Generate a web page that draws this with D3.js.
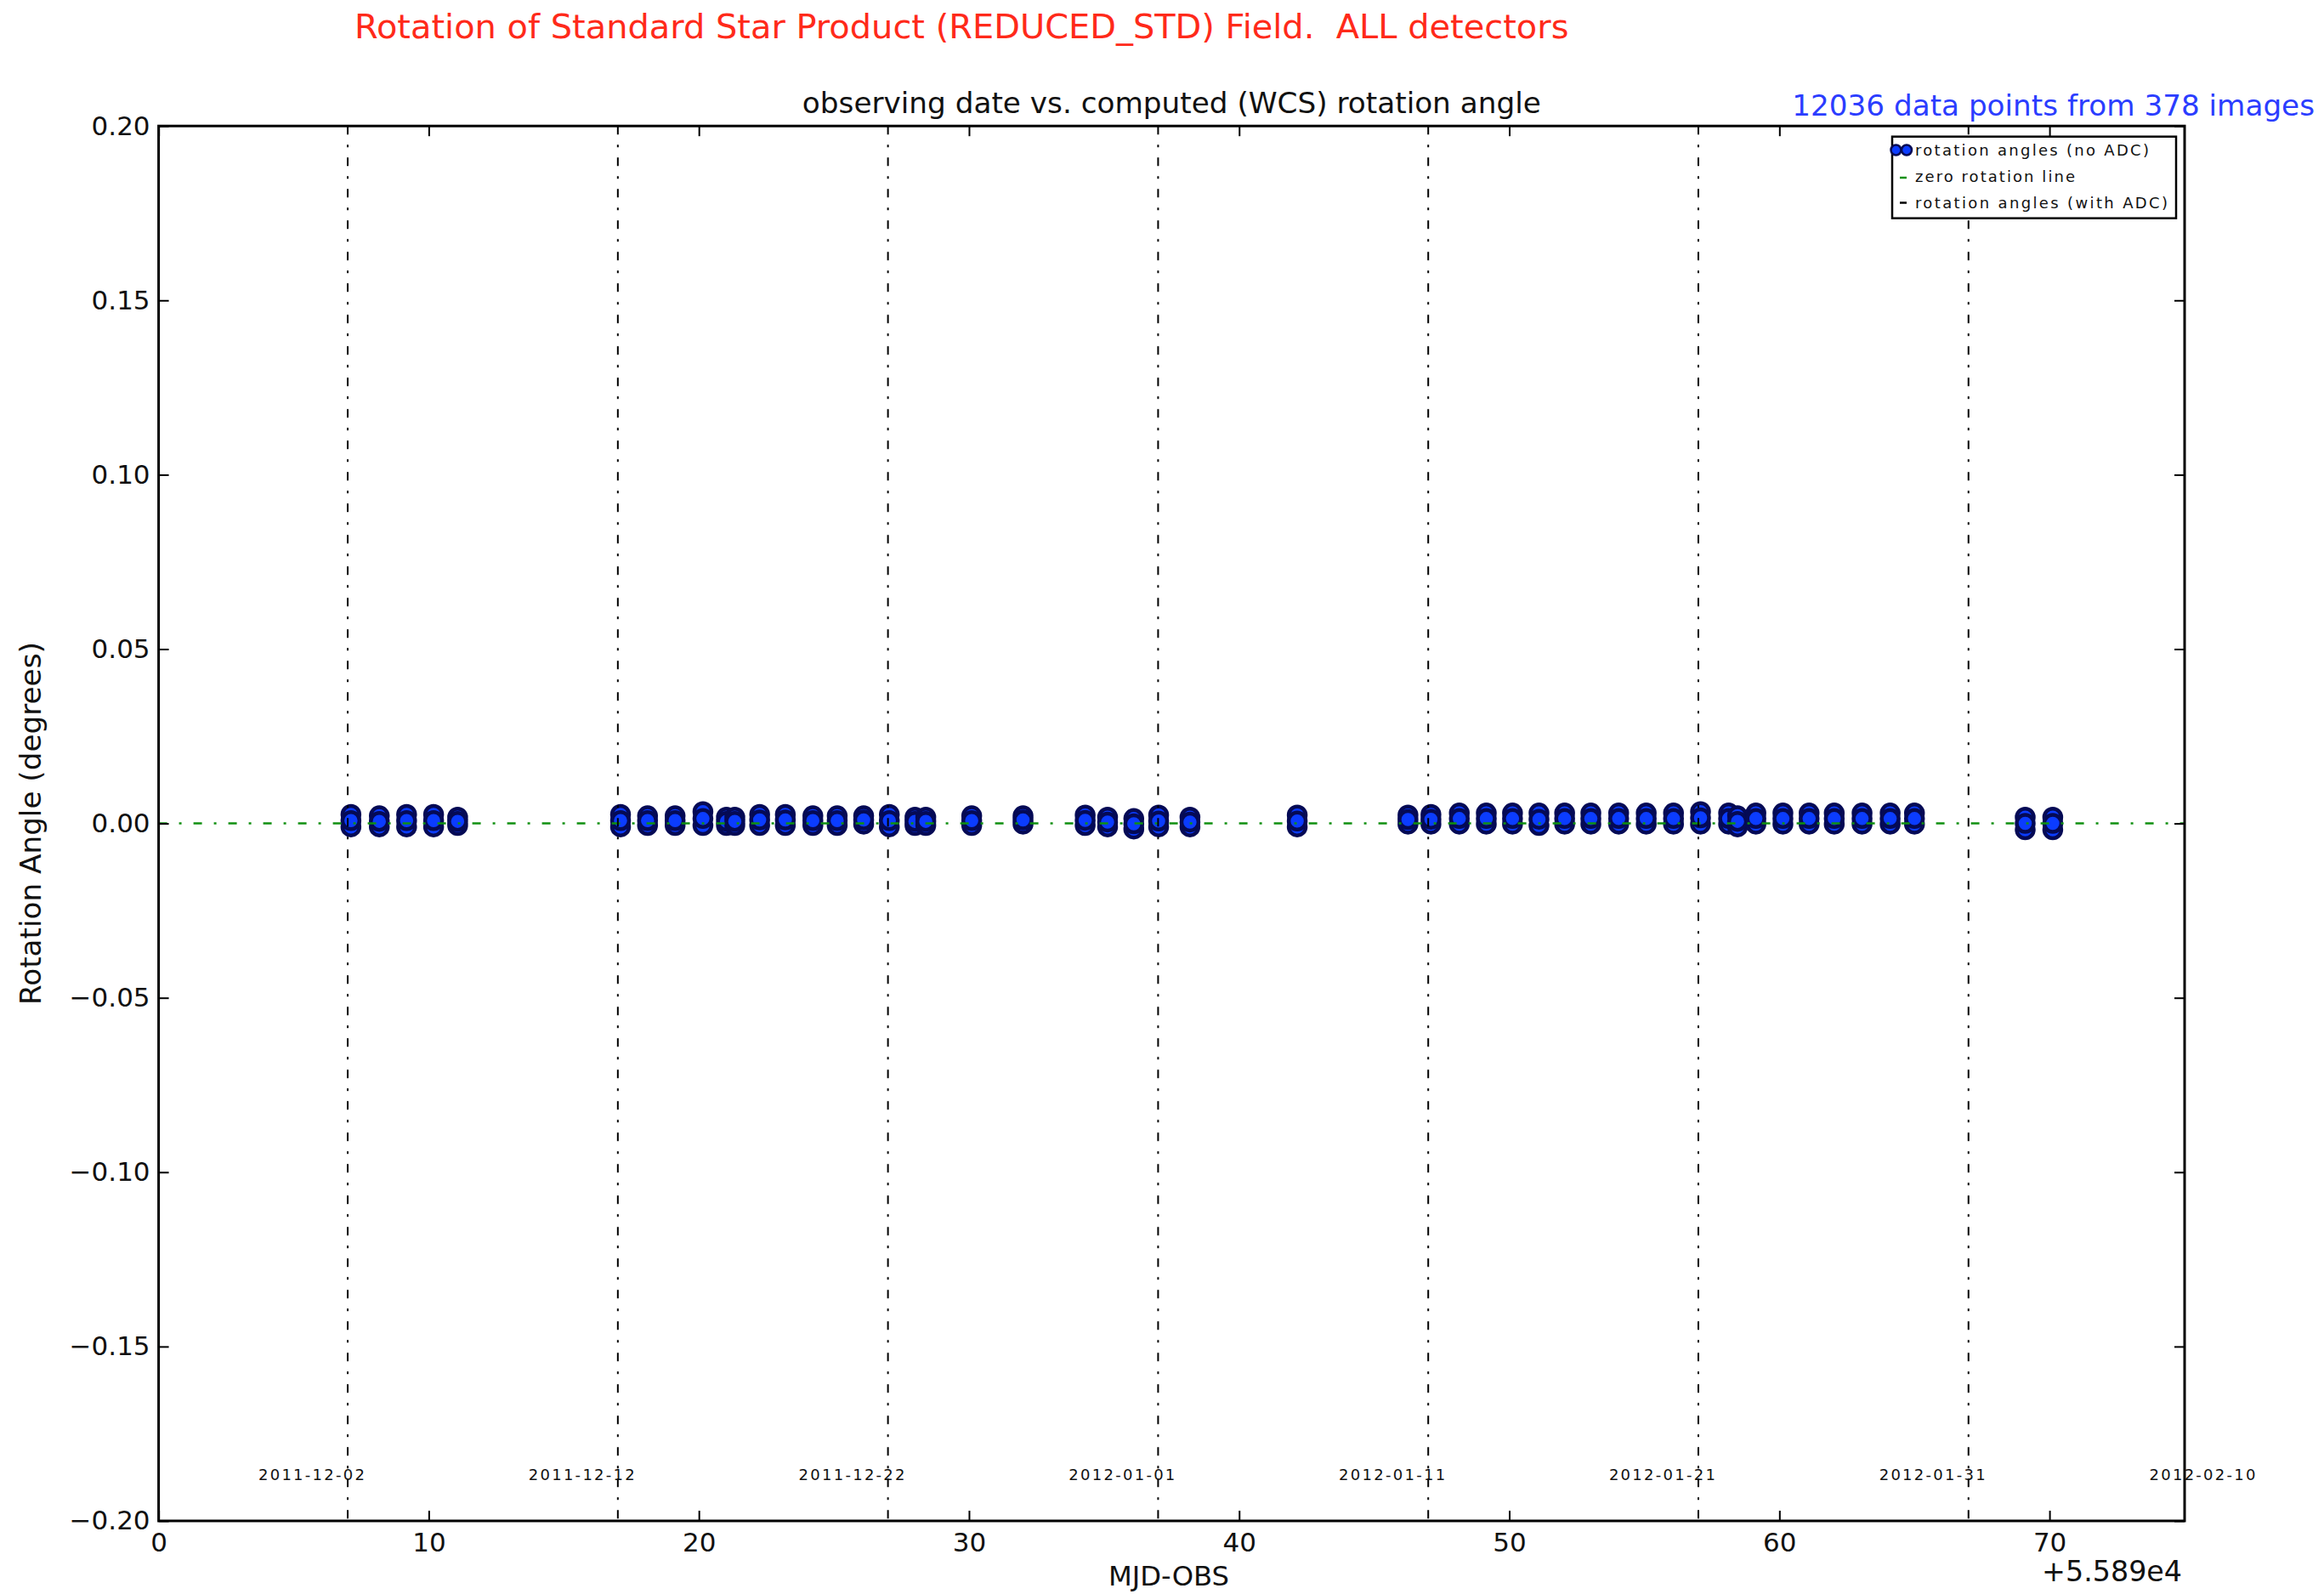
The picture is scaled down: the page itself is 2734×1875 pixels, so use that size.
<!DOCTYPE html>
<html>
<head>
<meta charset="utf-8">
<script src="https://cdn.jsdelivr.net/npm/d3@7"></script>
<style>
  html, body { margin: 0; padding: 0; background: #fff; }
  svg { display: block; }
  text { font-family: "DejaVu Sans", sans-serif; }
</style>
</head>
<body>
<script>
// ---------------- data ----------------
const xTicks = [0, 10, 20, 30, 40, 50, 60, 70];
const yTicks = [0.20, 0.15, 0.10, 0.05, 0.00, -0.05, -0.10, -0.15, -0.20];
const dateMjd = [7, 17, 27, 37, 47, 57, 67, 77];
const dateLabels = ["2011-12-02", "2011-12-12", "2011-12-22", "2012-01-01",
                    "2012-01-11", "2012-01-21", "2012-01-31", "2012-02-10"];

// observing nights (MJD - 55890) and spread of computed rotation angles (deg)
const nightMjd = [7.12, 8.17, 9.18, 10.18, 11.07,
  17.10, 18.10, 19.12, 20.15, 21.02, 21.33, 22.25, 23.20, 24.22, 25.12, 26.10, 27.05, 28.00, 28.40, 30.10, 32.00,
  34.30, 35.13, 36.10, 37.02, 38.18, 42.15,
  46.25, 47.10, 48.15, 49.15, 50.12, 51.10, 52.05, 53.02, 54.05, 55.07, 56.08, 57.08, 58.12, 58.45, 59.13, 60.13, 61.10, 62.03, 63.06, 64.10, 65.00,
  69.10, 70.12];
const angleHigh = [0.0026, 0.0022, 0.0026, 0.0026, 0.0018,
  0.0026, 0.0022, 0.0022, 0.0034, 0.0018, 0.0018, 0.0026, 0.0026, 0.0022, 0.0022, 0.0022, 0.0026, 0.0018, 0.0018, 0.0022, 0.0022,
  0.0024, 0.0018, 0.0014, 0.0024, 0.0018, 0.0024,
  0.0024, 0.0026, 0.0030, 0.0030, 0.0030, 0.0030, 0.0030, 0.0030, 0.0030, 0.0030, 0.0030, 0.0034, 0.0030, 0.0022, 0.0030, 0.0030, 0.0030, 0.0030, 0.0030, 0.0030, 0.0030,
  0.0018, 0.0018];
const angleMid = [0.0008, 0.0006, 0.0008, 0.0008, 0.0006,
  0.0008, 0.0008, 0.0008, 0.0014, 0.0006, 0.0006, 0.0010, 0.0010, 0.0008, 0.0008, 0.0010, 0.0008, 0.0006, 0.0006, 0.0008, 0.0010,
  0.0009, 0.0004, -0.0001, 0.0007, 0.0004, 0.0007,
  0.0011, 0.0012, 0.0014, 0.0014, 0.0014, 0.0012, 0.0014, 0.0014, 0.0014, 0.0014, 0.0014, 0.0016, 0.0014, 0.0006, 0.0014, 0.0014, 0.0014, 0.0014, 0.0014, 0.0014, 0.0014,
  0.0000, 0.0000];
const angleLow = [-0.0010, -0.0010, -0.0010, -0.0010, -0.0006,
  -0.0010, -0.0006, -0.0006, -0.0006, -0.0006, -0.0006, -0.0006, -0.0006, -0.0006, -0.0006, -0.0002, -0.0010, -0.0006, -0.0006, -0.0006, -0.0002,
  -0.0006, -0.0010, -0.0016, -0.0010, -0.0010, -0.0010,
  -0.0002, -0.0002, -0.0002, -0.0002, -0.0002, -0.0006, -0.0002, -0.0002, -0.0002, -0.0002, -0.0002, -0.0002, -0.0002, -0.0010, -0.0002, -0.0002, -0.0002, -0.0002, -0.0002, -0.0002, -0.0002,
  -0.0018, -0.0018];

const legendLabels = ["rotation angles (no ADC)", "zero rotation line", "rotation angles (with ADC)"];

// ---------------- layout ----------------
const W = 2734, H = 1875;
const L = 186.6, R = 2570, T = 148.2, B = 1789;
const x = d3.scaleLinear().domain([0, 75]).range([L, R]);
const y = d3.scaleLinear().domain([-0.2, 0.2]).range([B, T]);

const svg = d3.select("body").append("svg").attr("width", W).attr("height", H);
svg.append("rect").attr("width", W).attr("height", H).attr("fill", "#fff");

function fitWidth(sel, target) {
  const w = sel.node().getComputedTextLength();
  const fs = +sel.attr("font-size");
  sel.attr("font-size", fs * target / w);
  return sel;
}

// ---------------- points ----------------
const markFill = "#0b3cff", markEdge = "#050a55";
const gPts = svg.append("g");
nightMjd.forEach((m, i) => {
  const pts = [angleHigh[i], angleLow[i], angleMid[i]];
  gPts.selectAll(null).data(pts).enter().append("circle")
    .attr("cx", x(m)).attr("cy", d => y(d)).attr("r", 10)
    .attr("fill", markFill).attr("stroke", markEdge).attr("stroke-width", 4.5);
});

// ---------------- reference lines ----------------
svg.append("line")
  .attr("x1", x(0)).attr("x2", x(75)).attr("y1", y(0)).attr("y2", y(0))
  .attr("stroke", "#109010").attr("stroke-width", 2.5).attr("stroke-dasharray", "10,14,3,14");

svg.append("g").selectAll("line").data(dateMjd.filter(d => d <= 75)).enter().append("line")
  .attr("x1", d => x(d)).attr("x2", d => x(d)).attr("y1", y(0.2)).attr("y2", y(-0.2))
  .attr("stroke", "#000").attr("stroke-width", 2).attr("stroke-dasharray", "10,12,3,12");

svg.append("g").selectAll("text").data(dateMjd).enter().append("text")
  .attr("x", d => x(d - 1.34)).attr("y", y(-0.1884))
  .attr("text-anchor", "middle").attr("font-size", 18).attr("fill", "#111")
  .attr("textLength", 125).attr("lengthAdjust", "spacing")
  .text((d, i) => dateLabels[i]);

// ---------------- axes ----------------
function styleAxis(g) {
  g.select(".domain").remove();
  g.attr("font-family", "DejaVu Sans").attr("font-size", 31);
  g.selectAll(".tick line").attr("stroke", "#000").attr("stroke-width", 2);
  g.selectAll(".tick text").attr("fill", "#111");
}
svg.append("g").attr("transform", `translate(0,${B})`)
  .call(d3.axisBottom(x).tickValues(xTicks).tickSize(-12).tickPadding(14).tickFormat(d3.format("d")))
  .call(styleAxis);
svg.append("g").attr("transform", `translate(0,${T})`)
  .call(d3.axisTop(x).tickValues(xTicks).tickSize(-12).tickFormat(() => ""))
  .call(styleAxis);
svg.append("g").attr("transform", `translate(${L},0)`)
  .call(d3.axisLeft(y).tickValues(yTicks).tickSize(-12).tickPadding(10).tickFormat(d3.format(".2f")))
  .call(styleAxis);
svg.append("g").attr("transform", `translate(${R},0)`)
  .call(d3.axisRight(y).tickValues(yTicks).tickSize(-12).tickFormat(() => ""))
  .call(styleAxis);

svg.append("rect").attr("x", L).attr("y", T).attr("width", R - L).attr("height", B - T)
  .attr("fill", "none").attr("stroke", "#000").attr("stroke-width", 3);

// ---------------- legend ----------------
const lg = svg.append("g");
lg.append("rect").attr("x", 2226).attr("y", 160.7).attr("width", 334).attr("height", 96)
  .attr("fill", "#fff").attr("stroke", "#000").attr("stroke-width", 2.5);
lg.selectAll("circle").data([2230.5, 2243]).enter().append("circle")
  .attr("cx", d => d).attr("cy", 176.5).attr("r", 6)
  .attr("fill", markFill).attr("stroke", markEdge).attr("stroke-width", 2.5);
lg.append("line").attr("x1", 2235).attr("x2", 2243).attr("y1", 209).attr("y2", 209)
  .attr("stroke", "#109010").attr("stroke-width", 2.5);
lg.append("line").attr("x1", 2235).attr("x2", 2243).attr("y1", 238.5).attr("y2", 238.5)
  .attr("stroke", "#000").attr("stroke-width", 2.5);
const legendWidths = [275, 188, 297];
const legendBase = [182.5, 213.5, 244.5];
lg.selectAll("text").data(legendLabels).enter().append("text")
  .attr("x", 2253).attr("y", (d, i) => legendBase[i])
  .attr("font-size", 18).attr("fill", "#111")
  .attr("textLength", (d, i) => legendWidths[i]).attr("lengthAdjust", "spacing")
  .text(d => d);

// ---------------- titles & labels ----------------
const title = svg.append("text").attr("x", 417).attr("y", 45).attr("font-size", 36)
  .attr("fill", "#ff2a1a").attr("xml:space", "preserve").style("white-space", "pre")
  .text("Rotation of Standard Star Product (REDUCED_STD) Field.  ALL detectors");
fitWidth(title, 1429);

const sub = svg.append("text").attr("x", (L + R) / 2).attr("y", 133).attr("font-size", 31)
  .attr("text-anchor", "middle").attr("fill", "#111")
  .text("observing date vs. computed (WCS) rotation angle");
fitWidth(sub, 869);

const cnt = svg.append("text").attr("x", 2723).attr("y", 136).attr("font-size", 31)
  .attr("text-anchor", "end").attr("fill", "#2b3dff")
  .text("12036 data points from 378 images");
fitWidth(cnt, 615);

const ylab = svg.append("text").attr("transform", `translate(48,${(T + B) / 2}) rotate(-90)`)
  .attr("font-size", 31).attr("text-anchor", "middle").attr("fill", "#111")
  .text("Rotation Angle (degrees)");
fitWidth(ylab, 427);

const xlab = svg.append("text").attr("x", 1375).attr("y", 1865).attr("font-size", 31)
  .attr("text-anchor", "middle").attr("fill", "#111").text("MJD-OBS");
fitWidth(xlab, 142);

const off = svg.append("text").attr("x", 2567).attr("y", 1860).attr("font-size", 31)
  .attr("text-anchor", "end").attr("fill", "#111").text("+5.589e4");
fitWidth(off, 165);
</script>
</body>
</html>
